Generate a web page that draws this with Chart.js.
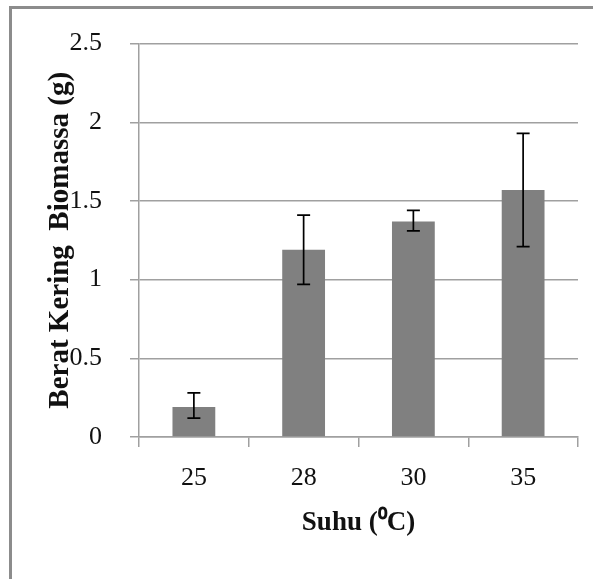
<!DOCTYPE html>
<html>
<head>
<meta charset="utf-8">
<script src="https://cdn.jsdelivr.net/npm/chart.js@4/dist/chart.umd.min.js"></script>
<style>
    html, body { margin: 0; padding: 0; background: #fff; }
    #wrap { position: relative; width: 593px; height: 579px; }
    #frame {
        position: absolute; left: 9px; top: 6px; right: 0; bottom: 0;
        border-top: 3px solid #8c8c8c; border-left: 3px solid #8c8c8c;
    }
    canvas { position: absolute; left: 0; top: 0; }
</style>
</head>
<body>
<div id="wrap">
    <div id="frame"></div>
    <canvas id="biomassChart" width="593" height="579"></canvas>
</div>
<script>
// Data
const suhu = ['25', '28', '30', '35'];
const beratKering = [0.19, 1.19, 1.37, 1.57];
const errLow = [0.12, 0.97, 1.31, 1.21];
const errHigh = [0.28, 1.41, 1.44, 1.93];
const yTicks = [0, 0.5, 1, 1.5, 2, 2.5];

const serif = "'Liberation Serif', 'Times New Roman', serif";

// Draw the error bars using the chart's own scales
const errorBars = {
    id: 'errorBars',
    afterDatasetsDraw(chart) {
        const ctx = chart.ctx;
        const yScale = chart.scales.y;
        const meta = chart.getDatasetMeta(0);
        ctx.save();
        ctx.strokeStyle = '#000';
        ctx.lineWidth = 1.7;
        meta.data.forEach((bar, i) => {
            const x = bar.x;
            const yHi = yScale.getPixelForValue(errHigh[i]);
            const yLo = yScale.getPixelForValue(errLow[i]);
            ctx.beginPath();
            ctx.moveTo(x, yHi);
            ctx.lineTo(x, yLo);
            ctx.moveTo(x - 6.5, yHi);
            ctx.lineTo(x + 6.5, yHi);
            ctx.moveTo(x - 6.5, yLo);
            ctx.lineTo(x + 6.5, yLo);
            ctx.stroke();
        });
        ctx.restore();
    }
};

const ctx = document.getElementById('biomassChart').getContext('2d');
new Chart(ctx, {
    type: 'bar',
    data: {
        labels: suhu,
        datasets: [{
            data: beratKering,
            backgroundColor: '#808080',
            borderWidth: 0,
            barPercentage: 0.39,
            categoryPercentage: 1
        }]
    },
    options: {
        responsive: false,
        animation: false,
        devicePixelRatio: 1,
        layout: { padding: { left: 0, right: 15, top: 43, bottom: 0 } },
        plugins: {
            legend: { display: false },
            tooltip: { enabled: false }
        },
        scales: {
            x: {
                offset: true,
                afterFit: (scale) => { scale.height = 142; },
                grid: {
                    offset: true,
                    drawOnChartArea: false,
                    drawTicks: true,
                    tickLength: 10,
                    color: '#a0a0a0',
                    lineWidth: 1.5
                },
                border: { color: '#a0a0a0', width: 1.5 },
                ticks: {
                    color: '#111',
                    padding: 16,
                    font: { family: serif, size: 26 }
                },
                title: {
                    display: true,
                    text: 'Suhu (\u2070C)',
                    color: '#111',
                    padding: { top: 0, bottom: 40 },
                    font: { family: serif, size: 27, weight: 'bold' }
                }
            },
            y: {
                min: 0,
                max: 2.5,
                afterFit: (scale) => { scale.width = 139; },
                afterBuildTicks: (scale) => { scale.ticks = yTicks.map(v => ({ value: v })); },
                grid: {
                    color: '#a0a0a0',
                    lineWidth: 1.5,
                    drawTicks: true,
                    tickLength: 9
                },
                border: { color: '#a0a0a0', width: 1.5 },
                ticks: {
                    color: '#111',
                    padding: 28,
                    font: { family: serif, size: 26 },
                    callback: (v) => String(v)
                },
                title: {
                    display: true,
                    text: 'Berat Kering  Biomassa (g)',
                    color: '#111',
                    padding: { top: 43, bottom: 0 },
                    font: { family: serif, size: 29, weight: 'bold' }
                }
            }
        }
    },
    plugins: [errorBars]
});
</script>
</body>
</html>
